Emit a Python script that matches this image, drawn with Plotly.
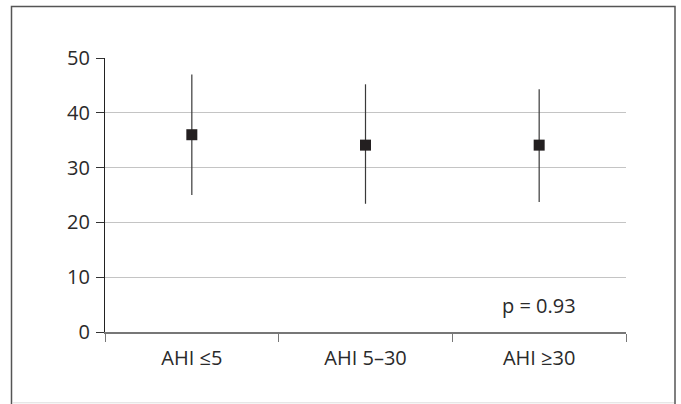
import plotly.graph_objects as go

categories = ["AHI ≤5", "AHI 5–30", "AHI ≥30"]
means = [36.0, 34.1, 34.1]
upper = [47.0, 45.2, 44.3]
lower = [25.0, 23.4, 23.7]
y_ticks = [0, 10, 20, 30, 40, 50]
p_text = "p = 0.93"

err_plus = [u - m for u, m in zip(upper, means)]
err_minus = [m - l for m, l in zip(means, lower)]

FONT = "Open Sans"
TXT = "#2a2a2a"
FS = 20

fig = go.Figure()
fig.add_trace(go.Scatter(
    x=categories, y=means, mode="markers",
    marker=dict(symbol="square", size=11, color="#231f20"),
    error_y=dict(type="data", symmetric=False, array=err_plus, arrayminus=err_minus,
                 color="#3a3a3a", thickness=1.2, width=0),
    showlegend=False,
))

fig.add_annotation(x=categories[2], y=4.9, text=p_text, showarrow=False,
                   font=dict(family=FONT, size=FS, color=TXT), xanchor="center", yanchor="middle")

L, R, T, B = 105, 55, 58, 72
W, H = 681, 404
pw, ph = W - L - R, H - T - B

def px(xp):
    return (xp - L) / pw

def py(yp):
    return (H - B - yp) / ph

border = "#555555"
fig.add_shape(type="rect", xref="paper", yref="paper", x0=px(11.5), x1=px(675), y0=py(6.5), y1=py(412),
              line=dict(color=border, width=1.5), fillcolor="rgba(0,0,0,0)", layer="above")
fig.add_shape(type="line", xref="paper", yref="paper", x0=px(12.5), x1=px(674), y0=py(402.8), y1=py(402.8),
              line=dict(color="#dddddd", width=1))

fig.update_layout(
    width=W, height=H,
    margin=dict(l=L, r=R, t=T, b=B, pad=0),
    paper_bgcolor="white", plot_bgcolor="white",
    font=dict(family=FONT, size=FS, color=TXT),
    xaxis=dict(type="category", range=[-0.5, 2.5], tickson="boundaries", ticks="outside",
               ticklen=8, tickcolor="#777777", tickwidth=1.2, showgrid=False,
               showline=True, linecolor="#777777", linewidth=1.5, zeroline=False,
               ticklabelstandoff=7, tickfont=dict(family=FONT, size=FS, color=TXT)),
    yaxis=dict(range=[0, 50], tickvals=y_ticks, ticks="outside", ticklen=8,
               tickcolor="#333333", tickwidth=1.2, showline=True, linecolor="#222222", linewidth=1.2,
               showgrid=True, gridcolor="#c4c4c4", gridwidth=1.3, zeroline=False,
               ticklabelstandoff=2, tickfont=dict(family=FONT, size=FS, color=TXT)),
)

fig.write_html("out.html", config={"displayModeBar": False},
               post_script="document.body.style.margin='0px';document.body.style.overflow='hidden';")
